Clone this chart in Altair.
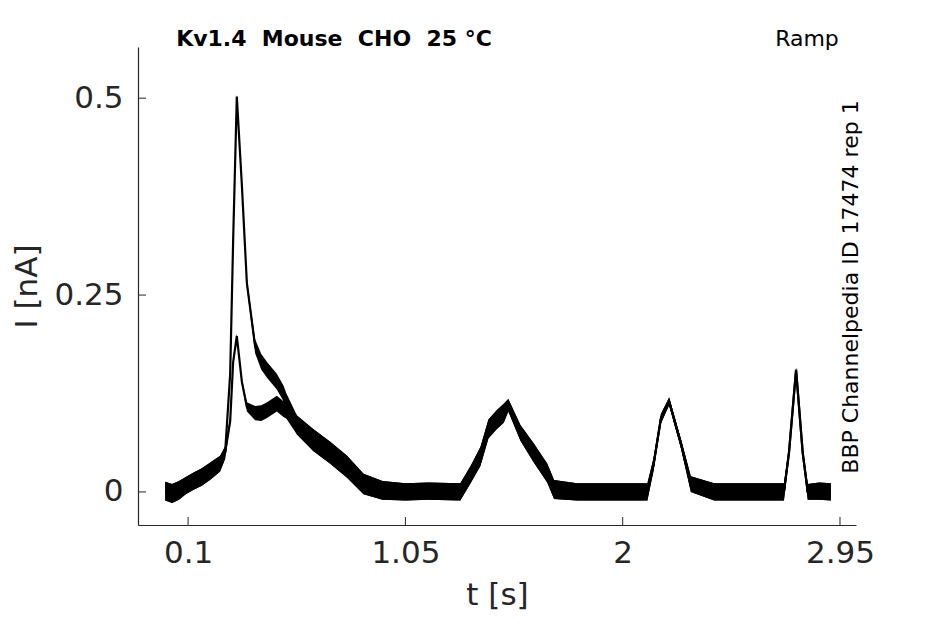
import altair as alt
import pandas as pd

# time points (s)
t = [0.0, 0.03, 0.06, 0.09, 0.12, 0.16, 0.2, 0.24, 0.262, 0.284, 0.297, 0.313,
     0.335, 0.357, 0.393, 0.42, 0.445, 0.488, 0.517, 0.53, 0.576, 0.647, 0.72,
     0.795, 0.867, 0.95, 1.05, 1.15, 1.29, 1.335, 1.378, 1.413, 1.45, 1.48, 1.5,
     1.553, 1.61, 1.67, 1.7, 1.8, 1.95, 2.108, 2.135, 2.167, 2.203, 2.254, 2.298,
     2.4, 2.55, 2.705, 2.727, 2.758, 2.787, 2.809, 2.86, 2.91]
# trace 1 (large transient peak), nA
i_a = [0.001, -0.002, 0.002, 0.008, 0.013, 0.019, 0.027, 0.036, 0.05, 0.15, 0.32, 0.502,
       0.39, 0.265, 0.185, 0.165, 0.155, 0.14, 0.125, 0.113, 0.085, 0.066, 0.05,
       0.032, 0.01, 0.002, 0.0, 0.001, 0.0, 0.022, 0.045, 0.08, 0.092, 0.1, 0.11,
       0.075, 0.05, 0.024, 0.003, 0.0, 0.0, 0.0, 0.035, 0.093, 0.115, 0.062, 0.01,
       0.0, 0.0, 0.0, 0.05, 0.155, 0.05, 0.0, 0.001, 0.0]
# trace 2 (smaller transient peak), nA
i_b = [0.001, -0.002, 0.002, 0.008, 0.013, 0.019, 0.027, 0.036, 0.05, 0.09, 0.165, 0.198,
       0.14, 0.108, 0.1, 0.1, 0.104, 0.112, 0.105, 0.105, 0.085, 0.066, 0.05,
       0.032, 0.01, 0.002, 0.0, 0.001, 0.0, 0.022, 0.045, 0.08, 0.092, 0.1, 0.11,
       0.075, 0.05, 0.024, 0.003, 0.0, 0.0, 0.0, 0.035, 0.093, 0.115, 0.062, 0.01,
       0.0, 0.0, 0.0, 0.05, 0.155, 0.05, 0.0, 0.001, 0.0]
noise = [0.012, 0.012, 0.012, 0.011, 0.011, 0.011, 0.011, 0.01, 0.008, 0.005, 0.004, 0.003,
         0.004, 0.006, 0.009, 0.01, 0.01, 0.01, 0.01, 0.012, 0.012, 0.014, 0.014,
         0.014, 0.013, 0.012, 0.011, 0.011, 0.011, 0.011, 0.012, 0.012, 0.012, 0.012, 0.008,
         0.01, 0.012, 0.012, 0.012, 0.011, 0.011, 0.011, 0.008, 0.006, 0.005, 0.006, 0.01,
         0.011, 0.011, 0.011, 0.005, 0.003, 0.005, 0.01, 0.011, 0.011]

x_ticks = [0.1, 1.05, 2, 2.95]
y_ticks = [0, 0.25, 0.5]

rows = []
for name, vals in (("a", i_a), ("b", i_b)):
    for tt, v, n in zip(t, vals, noise):
        rows.append({"trace": name, "t": tt, "I": v, "lo": v - n, "hi": v + n})
df = pd.DataFrame(rows)

W, H = 718, 478
FONT = "DejaVu Sans"
NB = "\u00a0"
xs = alt.Scale(domain=[-0.119, 3.02], nice=False, zero=False)
ys = alt.Scale(domain=[-0.042, 0.565], nice=False, zero=False)
ax_x = alt.Axis(values=x_ticks, format=".3~g", title="t [s]", tickSize=0,
                labelPadding=13, titlePadding=12, grid=False)
ax_y = alt.Axis(values=y_ticks, format=".3~g", title="I [nA]", tickSize=0,
                labelPadding=15, titlePadding=10, grid=False)

base = alt.Chart(df)

band = base.mark_area(color="black", opacity=1).encode(
    x=alt.X("t:Q", scale=xs, axis=ax_x),
    y=alt.Y("lo:Q", scale=ys, axis=ax_y),
    y2="hi:Q",
    detail="trace:N",
)
line = base.mark_line(color="black", strokeWidth=2.2).encode(
    x=alt.X("t:Q", scale=xs, axis=ax_x), y=alt.Y("I:Q", scale=ys, axis=ax_y), detail="trace:N"
)

xt = alt.Chart(pd.DataFrame({"v": x_ticks})).mark_rule(color="#262626", strokeWidth=1).encode(
    x=alt.X("v:Q", scale=xs, axis=ax_x), y=alt.value(H), y2=alt.value(H - 8)
)
yt = alt.Chart(pd.DataFrame({"v": y_ticks})).mark_rule(color="#262626", strokeWidth=1).encode(
    y=alt.Y("v:Q", scale=ys, axis=ax_y), x=alt.value(0), x2=alt.value(8)
)

title = alt.Chart(pd.DataFrame({"s": [f"Kv1.4{NB}{NB}Mouse{NB}{NB}CHO{NB}{NB}25 °C"]})).mark_text(
    font=FONT, fontSize=22, fontWeight="bold", color="black", align="center", baseline="alphabetic"
).encode(text="s:N", x=alt.value(196), y=alt.value(-1))

ramp = alt.Chart(pd.DataFrame({"s": ["Ramp"]})).mark_text(
    font=FONT, fontSize=22, color="black", align="center", baseline="alphabetic"
).encode(text="s:N", x=alt.value(669), y=alt.value(-1))

side = alt.Chart(pd.DataFrame({"s": ["BBP Channelpedia ID 17474 rep 1"]})).mark_text(
    font=FONT, fontSize=22, color="black", align="center", baseline="alphabetic", angle=270
).encode(text="s:N", x=alt.value(720), y=alt.value(240))

chart = alt.layer(band, line, xt, yt, title, ramp, side).properties(
    width=W, height=H,
    autosize=alt.AutoSizeParams(type="none"),
    padding={"left": 130, "top": 39, "right": 70, "bottom": 88},
    background="white",
).configure_view(stroke=None).configure_axis(
    domainColor="#262626", domainWidth=1.2, labelColor="#262626", titleColor="#262626",
    labelFont=FONT, titleFont=FONT, labelFontSize=31, titleFontSize=31,
    titleFontWeight="normal",
)

chart.save("out.html", embed_options={"renderer": "svg", "actions": False})
